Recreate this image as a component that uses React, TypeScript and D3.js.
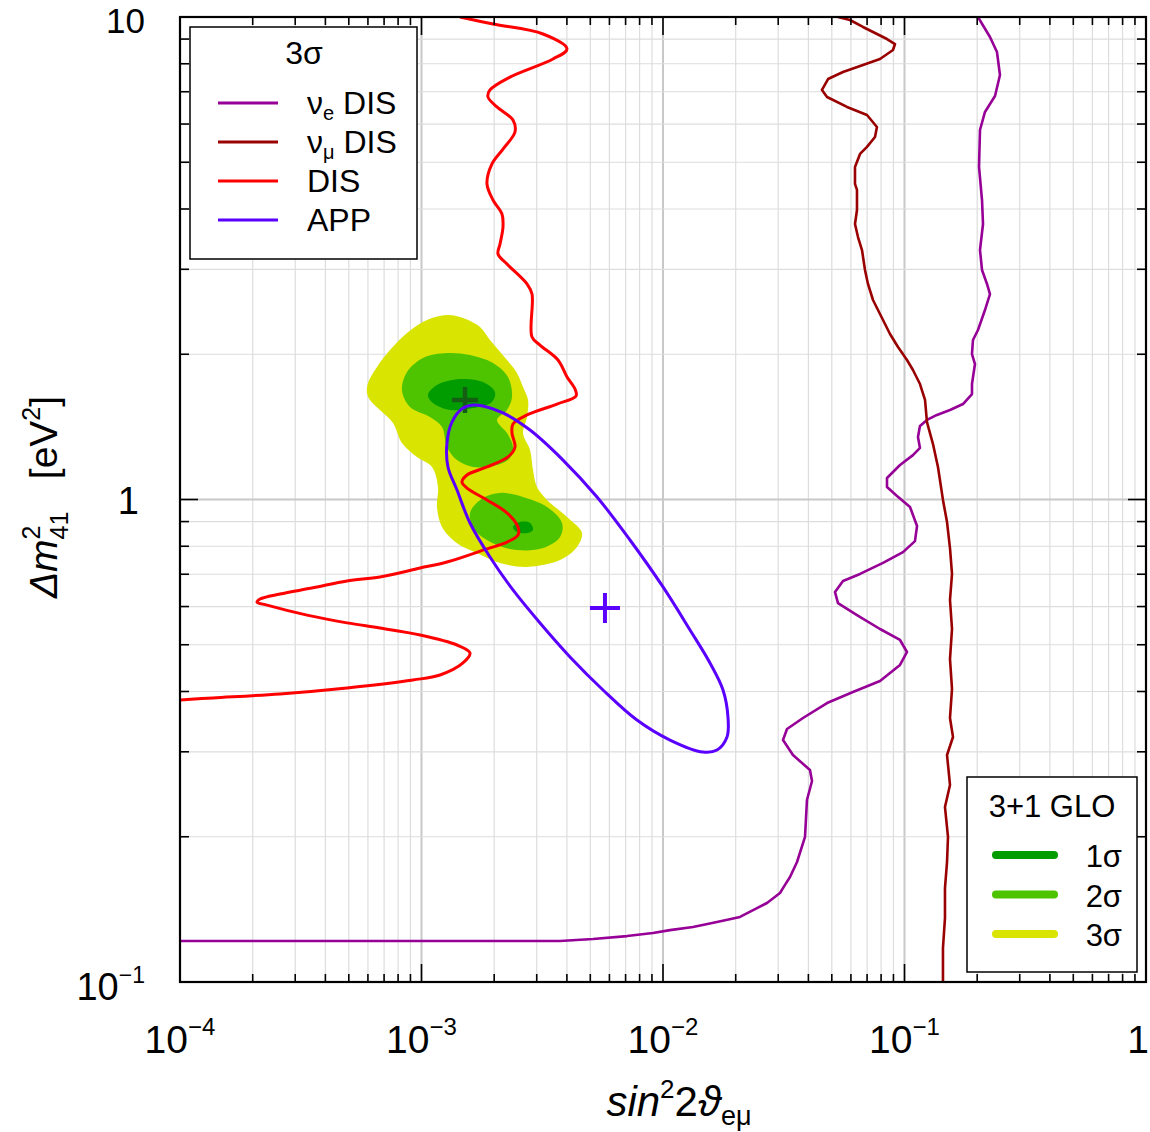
import React, { useEffect, useRef } from 'react';
import * as d3 from 'd3';

type Pt = [number, number];

// 3σ DIS bound (red)
const disCurve: Pt[] = [
  [1.443e-3, 10], [1.977e-3, 9.67], [3.185e-3, 9.22], [4.005e-3, 8.585], [3.503e-3, 8.185],
  [2.325e-3, 7.508], [1.921e-3, 7.059], [1.885e-3, 6.827], [2.054e-3, 6.51], [2.392e-3, 6.116],
  [2.438e-3, 5.776], [2.175e-3, 5.326], [1.958e-3, 4.96], [1.867e-3, 4.508], [1.977e-3, 4.175],
  [2.154e-3, 3.905], [2.175e-3, 3.671], [2.114e-3, 3.384], [2.074e-3, 3.227], [2.259e-3, 3.077],
  [2.735e-3, 2.797], [2.868e-3, 2.666], [2.868e-3, 2.172], [3.095e-3, 2.09], [3.675e-3, 1.946],
  [4.005e-3, 1.794], [4.322e-3, 1.694], [4.364e-3, 1.639], [3.64e-3, 1.577], [2.735e-3, 1.497],
  [2.392e-3, 1.434], [2.37e-3, 1.373], [2.438e-3, 1.285], [2.281e-3, 1.225], [1.867e-3, 1.168],
  [1.543e-3, 1.124], [1.471e-3, 1.087], [1.543e-3, 1.056], [1.867e-3, 0.998], [2.259e-3, 0.938],
  [2.509e-3, 0.877], [2.509e-3, 0.844], [2.259e-3, 0.816], [1.867e-3, 0.79], [1.275e-3, 0.742],
  [9.86e-4, 0.721], [6.73e-4, 0.691], [4.914e-4, 0.678], [3.553e-4, 0.656], [2.594e-4, 0.637],
  [2.145e-4, 0.622], [2.084e-4, 0.613], [2.293e-4, 0.604], [3.357e-4, 0.576], [4.914e-4, 0.555],
  [6.73e-4, 0.5415], [9.86e-4, 0.524], [1.403e-3, 0.4994], [1.588e-3, 0.4808], [1.485e-3, 0.4584],
  [1.193e-3, 0.4328], [9.22e-4, 0.4226], [4.914e-4, 0.4068], [2.594e-4, 0.3954], [1.37e-4, 0.3879],
  [1e-4, 0.3842],
];

// 3σ appearance contour (closed)
const appContour: Pt[] = [
  [1.634e-3, 1.57], [1.485e-3, 1.547], [1.337e-3, 1.447], [1.275e-3, 1.31], [1.287e-3, 1.168],
  [1.403e-3, 1.046], [1.588e-3, 0.894], [1.921e-3, 0.76], [2.392e-3, 0.6494], [3.095e-3, 0.5546],
  [4.12e-3, 0.4717], [5.645e-3, 0.4029], [7.8e-3, 0.3491], [1.069e-2, 0.3173], [1.464e-2, 0.2996],
  [1.673e-2, 0.3025], [1.841e-2, 0.3219], [1.858e-2, 0.354], [1.772e-2, 0.4029], [1.565e-2, 0.4584],
  [1.294e-2, 0.5365], [1.0e-2, 0.6588], [7.3e-3, 0.8243], [5.33e-3, 1.012], [3.854e-3, 1.207],
  [2.814e-3, 1.393], [2.175e-3, 1.512], [1.797e-3, 1.562],
];
const appBestFit: Pt = [5.75e-3, 0.5957];

// 3σ νμ disappearance bound
const numuDis: Pt[] = [
  [5.304e-2, 10], [5.945e-2, 9.858], [6.73e-2, 9.535], [8.462e-2, 9.002], [9.135e-2, 8.79],
  [8.96e-2, 8.542], [7.917e-2, 8.185], [6.73e-2, 7.953], [5.563e-2, 7.691], [4.824e-2, 7.438],
  [4.553e-2, 7.059], [4.778e-2, 6.827], [5.78e-2, 6.51], [6.993e-2, 6.265], [7.69e-2, 5.916],
  [7.548e-2, 5.641], [6.993e-2, 5.379], [6.544e-2, 5.203], [6.237e-2, 4.889], [6.237e-2, 4.508],
  [6.357e-2, 4.381], [6.357e-2, 3.981], [6.237e-2, 3.724], [6.418e-2, 3.499], [6.668e-2, 3.289],
  [6.861e-2, 2.99], [7.06e-2, 2.797], [7.405e-2, 2.591], [7.917e-2, 2.424], [8.71e-2, 2.203],
  [9.4e-2, 2.071], [0.1024, 1.946], [0.1084, 1.855], [0.1159, 1.735], [0.1216, 1.608],
  [0.1239, 1.447], [0.1312, 1.303], [0.1376, 1.168], [0.1443, 0.998], [0.15, 0.898],
  [0.1543, 0.793], [0.1573, 0.701], [0.1543, 0.619], [0.1573, 0.539], [0.1543, 0.467],
  [0.1573, 0.405], [0.1543, 0.3525], [0.1588, 0.3219], [0.15, 0.2954], [0.1543, 0.2561],
  [0.1471, 0.2305], [0.1514, 0.1998], [0.15, 0.1773], [0.1471, 0.1566], [0.1471, 0.1357],
  [0.1443, 0.1176], [0.1443, 0.1],
];

// 3σ νe disappearance bound
const nueDis: Pt[] = [
  [0.2015, 10], [0.2259, 9.09], [0.2415, 8.462], [0.2485, 7.582], [0.237, 6.859],
  [0.2154, 6.356], [0.2054, 5.832], [0.2035, 4.889], [0.2094, 4.175], [0.2114, 3.724],
  [0.2054, 3.289], [0.2094, 2.99], [0.2196, 2.797], [0.2259, 2.666], [0.2154, 2.47],
  [0.2015, 2.245], [0.1921, 2.141], [0.1903, 2.002], [0.1958, 1.909], [0.1903, 1.735],
  [0.1903, 1.654], [0.1747, 1.577], [0.1543, 1.533], [0.1363, 1.497], [0.1239, 1.462],
  [0.1159, 1.42], [0.1137, 1.348], [0.1159, 1.279], [0.1084, 1.236], [9.58e-2, 1.179],
  [8.462e-2, 1.108], [8.462e-2, 1.061], [9.31e-2, 1.017], [0.1054, 0.965], [0.1127, 0.881],
  [0.1105, 0.82], [9.86e-2, 0.778], [8.147e-2, 0.739], [6.544e-2, 0.701], [5.563e-2, 0.678],
  [5.156e-2, 0.643], [5.304e-2, 0.61], [6.357e-2, 0.576], [7.917e-2, 0.539], [9.58e-2, 0.5115],
  [0.1024, 0.483], [9.58e-2, 0.454], [7.917e-2, 0.4206], [6.118e-2, 0.399], [4.778e-2, 0.3786],
  [3.8e-2, 0.3525], [3.262e-2, 0.3344], [3.14e-2, 0.3173], [3.453e-2, 0.2954], [4.06e-2, 0.275],
  [4.14e-2, 0.261], [3.946e-2, 0.2383], [3.873e-2, 0.1998], [3.589e-2, 0.1773], [3.357e-2, 0.1651],
  [3.2e-2, 0.159], [3.051e-2, 0.1529], [2.696e-2, 0.1458], [2.45e-2, 0.1423], [2.084e-2, 0.1364],
  [1.673e-2, 0.1331], [1.331e-2, 0.13], [1.069e-2, 0.1281], [9.09e-3, 0.1263], [7.094e-3, 0.1245],
  [5.131e-3, 0.1228], [3.746e-3, 0.1216], [1e-4, 0.1216],
];

// 3+1 global fit regions
const glo3s: Pt[][] = [[
  [5.945e-4, 1.663], [6.003e-4, 1.744], [6.544e-4, 1.883], [7.405e-4, 2.041], [8.71e-4, 2.214],
  [1.054e-3, 2.355], [1.275e-3, 2.412], [1.443e-3, 2.389], [1.747e-3, 2.279], [1.921e-3, 2.141],
  [2.259e-3, 1.946], [2.485e-3, 1.829], [2.632e-3, 1.711], [2.761e-3, 1.608], [2.735e-3, 1.483],
  [2.632e-3, 1.373], [2.814e-3, 1.266], [2.895e-3, 1.151], [3.007e-3, 1.061], [3.309e-3, 0.998],
  [4.005e-3, 0.92], [4.62e-3, 0.852], [4.404e-3, 0.797], [3.746e-3, 0.749], [2.735e-3, 0.725],
  [2.114e-3, 0.739], [1.697e-3, 0.775], [1.403e-3, 0.812], [1.216e-3, 0.877], [1.159e-3, 0.965],
  [1.17e-3, 1.061], [1.105e-3, 1.168], [9.58e-4, 1.225], [8.3e-4, 1.31], [7.62e-4, 1.441],
  [6.73e-4, 1.533], [6.118e-4, 1.608],
]];
const glo2s: Pt[][] = [
  [
    [8.3e-4, 1.687], [8.71e-4, 1.837], [1.014e-3, 1.965], [1.275e-3, 2.012], [1.588e-3, 1.993],
    [1.977e-3, 1.918], [2.281e-3, 1.794], [2.37e-3, 1.631], [2.259e-3, 1.533], [2.054e-3, 1.462],
    [2.259e-3, 1.373], [2.392e-3, 1.285], [2.325e-3, 1.219], [2.054e-3, 1.179], [1.634e-3, 1.168],
    [1.403e-3, 1.207], [1.275e-3, 1.285], [1.216e-3, 1.413], [1.084e-3, 1.483], [8.96e-4, 1.555],
  ],
  [
    [1.588e-3, 0.938], [1.798e-3, 1.007], [2.114e-3, 1.032], [2.632e-3, 1.012], [3.309e-3, 0.965],
    [3.818e-3, 0.894], [3.746e-3, 0.836], [3.185e-3, 0.793], [2.485e-3, 0.786], [1.977e-3, 0.812],
    [1.665e-3, 0.865],
  ],
];
const glo1s: Pt[][] = [
  [
    [1.064e-3, 1.647], [1.159e-3, 1.727], [1.443e-3, 1.777], [1.798e-3, 1.752], [2.015e-3, 1.67],
    [1.958e-3, 1.593], [1.634e-3, 1.547], [1.312e-3, 1.533], [1.116e-3, 1.585],
  ],
  [
    [2.392e-3, 0.877], [2.558e-3, 0.898], [2.814e-3, 0.894], [2.895e-3, 0.865], [2.735e-3, 0.852],
    [2.485e-3, 0.856],
  ],
];
const gloBestFit: Pt = [1.514e-3, 1.608];

const xTickExponents = [-4, -3, -2, -1, 0];
const yTickExponents = [-1, 0, 1];

const curveLegend = [
  { sym: 'ν', sub: 'e', rest: ' DIS', key: 'nue' },
  { sym: 'ν', sub: 'μ', rest: ' DIS', key: 'numu' },
  { sym: '', sub: '', rest: 'DIS', key: 'dis' },
  { sym: '', sub: '', rest: 'APP', key: 'app' },
];
const gloLegend = ['1σ', '2σ', '3σ'];

const colors: Record<string, string> = {
  nue: '#960096',
  numu: '#990000',
  dis: '#ff0000',
  app: '#5a00ff',
  s1: '#009c00',
  s2: '#4ec400',
  s3: '#d9e400',
  gloCross: '#155f15',
};

const FONT = "'Liberation Sans', Arial, Helvetica, sans-serif";

const App = () => {
  const ref = useRef<SVGSVGElement>(null);

  useEffect(() => {
    const svg = d3.select(ref.current);
    svg.selectAll('*').remove();

    const x = d3.scaleLog().domain([1e-4, 1]).range([180, 1146]);
    const y = d3.scaleLog().domain([0.1, 10]).range([982, 17]);
    const [x0, x1] = x.range();
    const [y0, y1] = y.range();

    svg.append('rect').attr('width', 1150).attr('height', 1132).attr('fill', '#fff');

    svg.append('clipPath').attr('id', 'plot-clip')
      .append('rect').attr('x', x0).attr('y', y1).attr('width', x1 - x0).attr('height', y0 - y1);

    const isMajor = (v: number) => Math.abs(Math.log10(v) - Math.round(Math.log10(v))) < 1e-6;

    // grid
    const grid = svg.append('g');
    x.ticks().forEach((v) => {
      grid.append('line')
        .attr('x1', x(v)).attr('x2', x(v)).attr('y1', y1).attr('y2', y0)
        .attr('stroke', isMajor(v) ? '#c8c8c8' : '#dddddd')
        .attr('stroke-width', isMajor(v) ? 2 : 1.2);
    });
    y.ticks().forEach((v) => {
      grid.append('line')
        .attr('x1', x0).attr('x2', x1).attr('y1', y(v)).attr('y2', y(v))
        .attr('stroke', isMajor(v) ? '#c8c8c8' : '#dddddd')
        .attr('stroke-width', isMajor(v) ? 2 : 1.2);
    });

    const plot = svg.append('g').attr('clip-path', 'url(#plot-clip)');

    const closed = d3.line<Pt>().x((d) => x(d[0])).y((d) => y(d[1])).curve(d3.curveCatmullRomClosed.alpha(0.5));
    const smooth = d3.line<Pt>().x((d) => x(d[0])).y((d) => y(d[1])).curve(d3.curveCatmullRom.alpha(0.5));
    const rough = d3.line<Pt>().x((d) => x(d[0])).y((d) => y(d[1]));

    // global fit regions
    const fills: [Pt[][], string][] = [[glo3s, colors.s3], [glo2s, colors.s2], [glo1s, colors.s1]];
    fills.forEach(([regions, c]) => {
      regions.forEach((r) => {
        plot.append('path').attr('d', closed(r)).attr('fill', c).attr('stroke', 'none');
      });
    });

    const cross = (p: Pt, half: number, c: string, w: number) => {
      const cx = x(p[0]);
      const cy = y(p[1]);
      plot.append('path')
        .attr('d', `M${cx - half},${cy}H${cx + half}M${cx},${cy - half}V${cy + half}`)
        .attr('stroke', c).attr('stroke-width', w).attr('fill', 'none');
    };
    cross(gloBestFit, 13, colors.gloCross, 4.5);

    // exclusion / allowed curves
    plot.append('path').attr('d', rough(nueDis)).attr('fill', 'none')
      .attr('stroke', colors.nue).attr('stroke-width', 2.6).attr('stroke-linejoin', 'round');
    plot.append('path').attr('d', rough(numuDis)).attr('fill', 'none')
      .attr('stroke', colors.numu).attr('stroke-width', 2.6).attr('stroke-linejoin', 'round');
    plot.append('path').attr('d', smooth(disCurve)).attr('fill', 'none')
      .attr('stroke', colors.dis).attr('stroke-width', 3);
    plot.append('path').attr('d', closed(appContour)).attr('fill', 'none')
      .attr('stroke', colors.app).attr('stroke-width', 3);
    cross(appBestFit, 15, colors.app, 4);

    // ticks on all four sides, pointing inward
    const ticks = svg.append('g').attr('stroke', '#000').attr('stroke-width', 1.6);
    x.ticks().forEach((v) => {
      const len = isMajor(v) ? 18 : 8;
      ticks.append('line').attr('x1', x(v)).attr('x2', x(v)).attr('y1', y0).attr('y2', y0 - len);
      ticks.append('line').attr('x1', x(v)).attr('x2', x(v)).attr('y1', y1).attr('y2', y1 + len);
    });
    y.ticks().forEach((v) => {
      const len = isMajor(v) ? 18 : 9;
      ticks.append('line').attr('x1', x0).attr('x2', x0 + len).attr('y1', y(v)).attr('y2', y(v));
      ticks.append('line').attr('x1', x1).attr('x2', x1 - len).attr('y1', y(v)).attr('y2', y(v));
    });

    // frame
    svg.append('rect').attr('x', x0).attr('y', y1).attr('width', x1 - x0).attr('height', y0 - y1)
      .attr('fill', 'none').attr('stroke', '#000').attr('stroke-width', 2.2);

    // tick labels
    xTickExponents.forEach((e) => {
      const t = svg.append('text').attr('x', x(10 ** e)).attr('y', 1053)
        .attr('text-anchor', 'middle').attr('font-family', FONT).attr('font-size', 39);
      if (e === 0) {
        t.attr('x', 1149).attr('text-anchor', 'end').text('1');
      } else {
        t.append('tspan').text('10');
        t.append('tspan').attr('font-size', 24).attr('dy', -18).text(`\u2212${-e}`);
      }
    });
    yTickExponents.forEach((e) => {
      const t = svg.append('text').attr('x', 145).attr('y', y(10 ** e) + (e === -1 ? 18 : e === 1 ? 16 : 14))
        .attr('text-anchor', 'end').attr('font-family', FONT).attr('font-size', e === 1 ? 35 : 38);
      if (e === 0) {
        t.attr('x', 139).text('1');
      } else if (e === 1) {
        t.text('10');
      } else {
        t.append('tspan').text('10');
        t.append('tspan').attr('font-size', 23).attr('dy', -17).text(`\u2212${-e}`);
      }
    });

    // axis titles
    const xt = svg.append('text').attr('x', 679).attr('y', 1116).attr('text-anchor', 'middle')
      .attr('font-family', FONT).attr('font-size', 42);
    xt.append('tspan').attr('font-style', 'italic').text('sin');
    xt.append('tspan').attr('font-size', 26).attr('dy', -18).text('2');
    xt.append('tspan').attr('dy', 18).text('2');
    xt.append('tspan').attr('font-style', 'italic').text('ϑ');
    xt.append('tspan').attr('font-size', 27).attr('dy', 9).text('eμ');

    const yt = svg.append('text').attr('transform', 'translate(57,497) rotate(-90)')
      .attr('text-anchor', 'middle').attr('font-family', FONT).attr('font-size', 39);
    yt.append('tspan').attr('font-style', 'italic').text('Δm');
    yt.append('tspan').attr('font-size', 25).attr('dy', -17).text('2');
    yt.append('tspan').attr('font-size', 25).attr('dx', -14).attr('dy', 28).text('41');
    yt.append('tspan').attr('dy', -11).text('\u00a0\u00a0\u00a0[eV');
    yt.append('tspan').attr('font-size', 25).attr('dy', -17).text('2');
    yt.append('tspan').attr('dy', 17).text(']');

    // curve legend
    const lg = svg.append('g').attr('font-family', FONT);
    lg.append('rect').attr('x', 190).attr('y', 27).attr('width', 227).attr('height', 232)
      .attr('fill', '#fff').attr('stroke', '#000').attr('stroke-width', 1.5);
    lg.append('text').attr('x', 304).attr('y', 64).attr('text-anchor', 'middle')
      .attr('font-size', 32).text('3σ');
    curveLegend.forEach((d, i) => {
      const ly = 103 + i * 39;
      lg.append('line').attr('x1', 218).attr('x2', 278).attr('y1', ly).attr('y2', ly)
        .attr('stroke', colors[d.key]).attr('stroke-width', 3);
      const t = lg.append('text').attr('x', 307).attr('y', ly + 11).attr('font-size', 32);
      if (d.sym) {
        t.append('tspan').text(d.sym);
        t.append('tspan').attr('font-size', 20).attr('dy', 6).text(d.sub);
        t.append('tspan').attr('dy', -6).text(d.rest);
      } else {
        t.text(d.rest);
      }
    });

    // global fit legend
    const lg2 = svg.append('g').attr('font-family', FONT);
    lg2.append('rect').attr('x', 967).attr('y', 777).attr('width', 170).attr('height', 195)
      .attr('fill', '#fff').attr('stroke', '#000').attr('stroke-width', 1.5);
    lg2.append('text').attr('x', 1052).attr('y', 817).attr('text-anchor', 'middle')
      .attr('font-size', 31).text('3+1 GLO');
    const sigmaColors = [colors.s1, colors.s2, colors.s3];
    gloLegend.forEach((label, i) => {
      const ly = 855 + i * 39.5;
      lg2.append('line').attr('x1', 996).attr('x2', 1054).attr('y1', ly).attr('y2', ly)
        .attr('stroke', sigmaColors[i]).attr('stroke-width', 8).attr('stroke-linecap', 'round');
      lg2.append('text').attr('x', 1122).attr('y', ly + 12).attr('text-anchor', 'end')
        .attr('font-size', 31).text(label);
    });

    return () => {
      svg.selectAll('*').remove();
    };
  }, []);

  return (
    <svg
      ref={ref}
      width={1150}
      height={1132}
      style={{ position: 'absolute', left: 0, top: 0, display: 'block' }}
    />
  );
};

export default App;
